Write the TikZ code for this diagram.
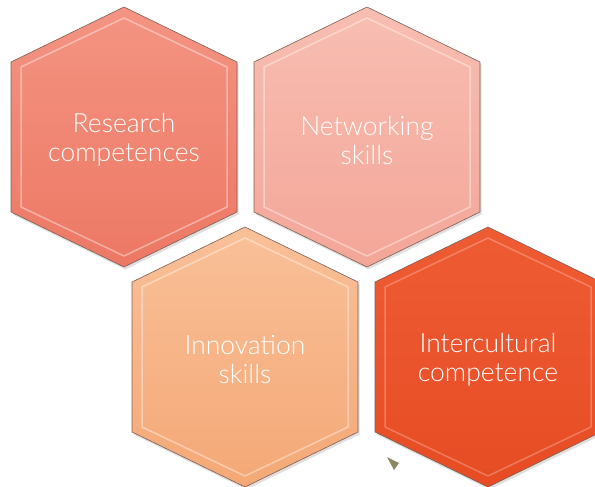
\documentclass[tikz,border=0pt]{standalone}
\usepackage{fontspec}
\setmainfont{Lato}[UprightFont=* Light]
\usetikzlibrary{shadows}
\definecolor{hexline}{RGB}{125,95,85}
\definecolor{researchtop}{RGB}{244,148,130}
\definecolor{researchbot}{RGB}{236,120,100}
\definecolor{networktop}{RGB}{248,190,178}
\definecolor{networkbot}{RGB}{243,166,152}
\definecolor{innovtop}{RGB}{249,192,152}
\definecolor{innovbot}{RGB}{244,168,118}
\definecolor{intertop}{RGB}{238,92,52}
\definecolor{interbot}{RGB}{231,76,36}
\definecolor{pointer}{RGB}{140,135,100}
\tikzset{
  hexcell/.style={draw=hexline, line width=0.6pt,
    drop shadow={opacity=0.25, shadow xshift=1.5pt, shadow yshift=-2.5pt}},
  bevel/.style={draw=white, draw opacity=0.4, line width=1.5pt, line join=round},
  hexlabel/.style={text=white, font=\fontsize{26.5}{29}\selectfont, align=center}
}
% hexagon round a centre (x, y), y grows downwards
\newcommand{\hexoutline}[2]{(#1,#2-130) -- (#1+113,#2-75) -- (#1+113,#2+75) -- (#1,#2+130) -- (#1-113,#2+75) -- (#1-113,#2-75) -- cycle}
\newcommand{\hexinner}[2]{(#1,#2-119) -- (#1+103,#2-70) -- (#1+103,#2+70) -- (#1,#2+119) -- (#1-103,#2+70) -- (#1-103,#2-70) -- cycle}
\begin{document}
\begin{tikzpicture}[x=1pt,y=-1pt]
    \useasboundingbox (0,0) rectangle (595,487);
    \clip (0,0) rectangle (595,487);
    % upper row
    \path[hexcell, top color=researchtop, bottom color=researchbot] \hexoutline{124}{137};
    \draw[bevel] \hexinner{124}{137};
    \node[hexlabel] (research) at (124,140) {Research\\competences};
    \path[hexcell, top color=networktop, bottom color=networkbot] \hexoutline{367}{137};
    \draw[bevel] \hexinner{367}{137};
    \node[hexlabel] (networking) at (367,140) {Networking\\skills};
    % lower row
    \path[hexcell, top color=innovtop, bottom color=innovbot] \hexoutline{245}{357};
    \draw[bevel] \hexinner{245}{357};
    \node[hexlabel] (innovation) at (245,360) {Innovation\\skills};
    \path[hexcell, top color=intertop, bottom color=interbot] \hexoutline{488}{357};
    \draw[bevel, draw opacity=0.25] \hexinner{488}{357};
    \node[hexlabel] (intercultural) at (488,360) {Intercultural\\competence};
    \fill[pointer] (387,457) -- (399,463) -- (394,470) -- cycle;
\end{tikzpicture}
\end{document}
